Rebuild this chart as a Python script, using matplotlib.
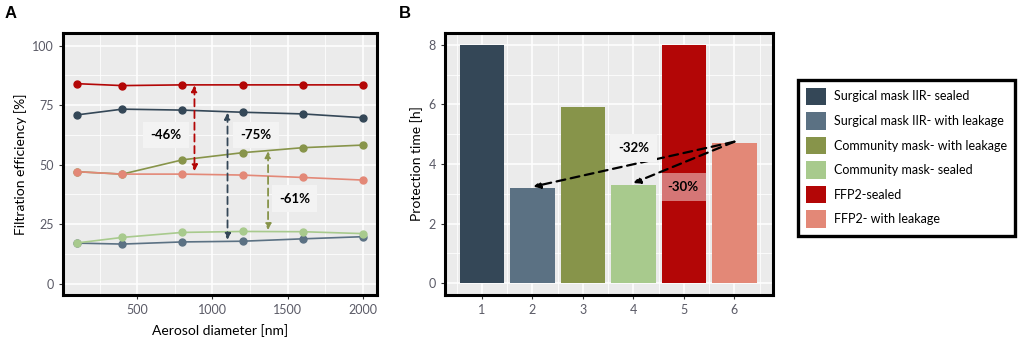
import matplotlib
matplotlib.use("Agg")
import matplotlib.pyplot as plt
from matplotlib.patches import Patch
from matplotlib.ticker import MultipleLocator

plt.rcParams['font.family'] = ['Lato', 'DejaVu Sans']

# ---- Panel A data ----
diam = [100, 400, 800, 1200, 1600, 2000]
surg_sealed = [70.9, 73.3, 72.9, 72.0, 71.3, 69.7]
surg_leak = [17.0, 16.6, 17.5, 17.8, 18.8, 19.7]
comm_leak = [47.0, 46.0, 52.0, 55.0, 57.1, 58.2]
comm_sealed = [17.1, 19.4, 21.5, 21.9, 21.8, 21.0]
ffp2_sealed = [84.0, 83.2, 83.5, 83.5, 83.5, 83.5]
ffp2_leak = [47.0, 46.0, 46.0, 45.6, 44.6, 43.5]

# ---- Panel B data ----
bar_pos = [1, 2, 3, 4, 5, 6]
prot_time = [8.0, 3.2, 5.9, 3.3, 8.0, 4.7]

labels = ["Surgical mask IIR- sealed", "Surgical mask IIR- with leakage",
          "Community mask- with leakage", "Community mask- sealed",
          "FFP2-sealed", "FFP2- with leakage"]
colors = ["#344757", "#5b7183", "#87944a", "#a8ca8d", "#b30606", "#e38877"]

# annotations
a_arrows = [(880, 83.3, 47.2, "#b30606"), (1100, 71.8, 18.4, "#344757"), (1370, 55.6, 22.5, "#87944a")]
a_texts = [(690, 62.4, "-46%"), (1290, 62.4, "-75%"), (1545, 35.7, "-61%")]
b_start = (6.0, 4.75)
b_ends = [(2.02, 3.24), (4.0, 3.36)]
b_texts = [(4.0, 4.55, "-32%", "#f3f3f3", 1.0), (4.97, 3.24, "-30%", "white", 0.45)]

fig = plt.figure(figsize=(10.21, 3.41), dpi=100)
W, H = 1021, 341

def style(ax):
    ax.set_facecolor("#ebebeb")
    ax.grid(which='major', color='white', lw=1.1, zorder=0)
    ax.grid(which='minor', color='white', lw=0.55, zorder=0)
    ax.set_axisbelow(True)
    for s in ax.spines.values():
        s.set_linewidth(2.2)
        s.set_color('black')
    ax.tick_params(which='major', length=3, color='#333333', labelcolor='#5a5a66', labelsize=9)
    ax.tick_params(which='minor', length=0)

axA = fig.add_axes([63 / W, 1 - 295 / H, (377 - 63) / W, (295 - 33) / H])
style(axA)
series = [surg_sealed, surg_leak, comm_leak, comm_sealed, ffp2_sealed, ffp2_leak]
order = [2, 5, 0, 1, 3, 4]
for i in order:
    axA.plot(diam, series[i], color=colors[i], lw=1.2, marker='o', ms=5, zorder=3)
axA.set_xlim(5, 2095)
axA.set_ylim(-4.8, 105.3)
axA.xaxis.set_major_locator(MultipleLocator(500))
axA.xaxis.set_minor_locator(MultipleLocator(250))
axA.yaxis.set_major_locator(MultipleLocator(25))
axA.yaxis.set_minor_locator(MultipleLocator(12.5))
axA.set_xticks([500, 1000, 1500, 2000])
axA.set_xlabel("Aerosol diameter [nm]", fontsize=10, labelpad=6)
axA.set_ylabel("Filtration efficiency [%]", fontsize=10, labelpad=4)
for x, y1, y2, c in a_arrows:
    axA.annotate("", xy=(x, y2), xytext=(x, y1),
                 arrowprops=dict(arrowstyle='<|-|>', color=c, lw=1.3, ls=(0, (4, 2.5)),
                                 mutation_scale=9, shrinkA=0, shrinkB=0), zorder=4)
for x, y, t in a_texts:
    axA.text(x, y, t, ha='center', va='center', fontsize=9.5, fontweight='bold',
             bbox=dict(boxstyle='square,pad=0.55', fc='#f3f3f3', ec='none'), zorder=5)

axB = fig.add_axes([445 / W, 1 - 295 / H, (773.3 - 445) / W, (295 - 33) / H])
style(axB)
axB.bar(bar_pos, prot_time, width=0.88, color=colors, zorder=2)
axB.set_xlim(0.27, 6.77)
axB.set_ylim(-0.4, 8.4)
axB.set_xticks(bar_pos)
axB.xaxis.set_minor_locator(MultipleLocator(0.5))
axB.yaxis.set_major_locator(MultipleLocator(2))
axB.yaxis.set_minor_locator(MultipleLocator(1))
axB.set_ylabel("Protection time [h]", fontsize=10, labelpad=4)
for ex, ey in b_ends:
    axB.annotate("", xy=(ex, ey), xytext=b_start,
                 arrowprops=dict(arrowstyle='-|>', color='black', lw=1.6, ls=(0, (4, 2.5)),
                                 mutation_scale=10, shrinkA=0, shrinkB=0), zorder=4)
for x, y, t, fc, al in b_texts:
    axB.text(x, y, t, ha='center', va='center', fontsize=9.5, fontweight='bold',
             bbox=dict(boxstyle='square,pad=0.6', fc=fc, ec='none', alpha=al), zorder=5)

fig.text(11 / W, 1 - 13 / H, "A", fontsize=12, fontweight='bold', ha='center', va='center',
         family=['Liberation Sans', 'DejaVu Sans'])
fig.text(405 / W, 1 - 13 / H, "B", fontsize=12, fontweight='bold', ha='center', va='center',
         family=['Liberation Sans', 'DejaVu Sans'])

handles = [Patch(facecolor=c, edgecolor='none') for c in colors]
leg = fig.legend(handles, labels, loc='upper left', bbox_to_anchor=(798 / W, 1 - 80 / H),
                 fontsize=9, frameon=True, fancybox=False, framealpha=1,
                 handlelength=1.6, handleheight=1.8,
                 labelspacing=0.55, handletextpad=0.7, borderpad=0.6, borderaxespad=0)
leg.get_frame().set_edgecolor('black')
leg.get_frame().set_linewidth(2.4)

fig.savefig("out.png", dpi=100)
